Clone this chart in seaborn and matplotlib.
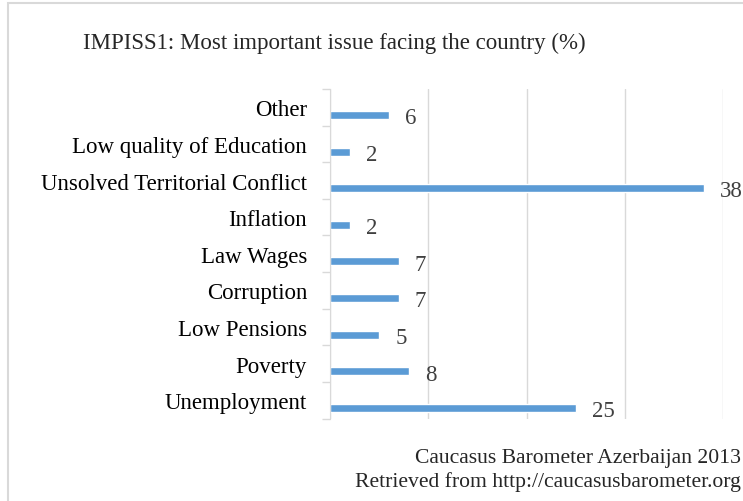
import numpy as np
import pandas as pd
import matplotlib.pyplot as plt
import seaborn as sns
from matplotlib.patches import Rectangle

issues = ["Other", "Low quality of Education", "Unsolved Territorial Conflict",
          "Inflation", "Law Wages", "Corruption", "Low Pensions", "Poverty",
          "Unemployment"]
percent = [6, 2, 38, 2, 7, 7, 5, 8, 25]
title = "IMPISS1: Most important issue facing the country (%)"
source1 = "Caucasus Barometer Azerbaijan 2013"
source2 = "Retrieved from http://caucasusbarometer.org"

df = pd.DataFrame({"issue": issues, "percent": percent})

sns.set_style("white")
plt.rcParams["font.family"] = ["Liberation Serif", "DejaVu Serif"]

W, H = 743, 502
fig = plt.figure(figsize=(W / 100, H / 100), dpi=100)
ax = fig.add_axes([330 / W, 1 - 419.5 / H, (723.3 - 330) / W, (419.5 - 90) / H])

sns.barplot(data=df, x="percent", y="issue", orient="h", color="#5b9bd5",
            saturation=1, width=0.22, ax=ax)

n = len(issues)
off = 0.21
ax.set_ylim(n - 0.5 - off, -0.5 - off)
ax.set_yticks(np.arange(n + 1) - 0.5 - off, labels=[""] * (n + 1))
ax.set_yticks(np.arange(n) - off, labels=issues, minor=True)
ax.tick_params(axis="y", which="major", length=6, color="#d9d9d9", width=1, left=True)
ax.tick_params(axis="y", which="minor", length=0, labelsize=16.5, pad=16.5, labelcolor="black")

ax.set_xlim(0, 40)
ax.set_xticks([0, 10, 20, 30, 40])
ax.tick_params(axis="x", length=0, labelbottom=False)
ax.grid(axis="x", color="#d9d9d9", lw=1)
ax.set_axisbelow(True)
ax.set_xlabel("")
ax.set_ylabel("")

for s in ["top", "right", "bottom"]:
    ax.spines[s].set_visible(False)
ax.spines["left"].set_color("#d9d9d9")

for i, v in enumerate(percent):
    ax.annotate(str(v), (v, i), xytext=(11.5, -2), textcoords="offset points",
                ha="left", va="center", fontsize=16.5, color="#404040",
                annotation_clip=False)

fig.text(334 / W, 1 - 43 / H, title, ha="center", va="center", fontsize=16.5)
fig.text(741 / W, 1 - 459 / H, source1, ha="right", va="center", fontsize=15.6)
fig.text(741 / W, 1 - 482 / H, source2, ha="right", va="center", fontsize=15.6)

fig.add_artist(Rectangle((8 / W, -0.05), 1.0, 1.05 - 4 / H, transform=fig.transFigure,
                         fill=False, ec="#d9d9d9", lw=1.5))

fig.savefig("out.png", dpi=100)
